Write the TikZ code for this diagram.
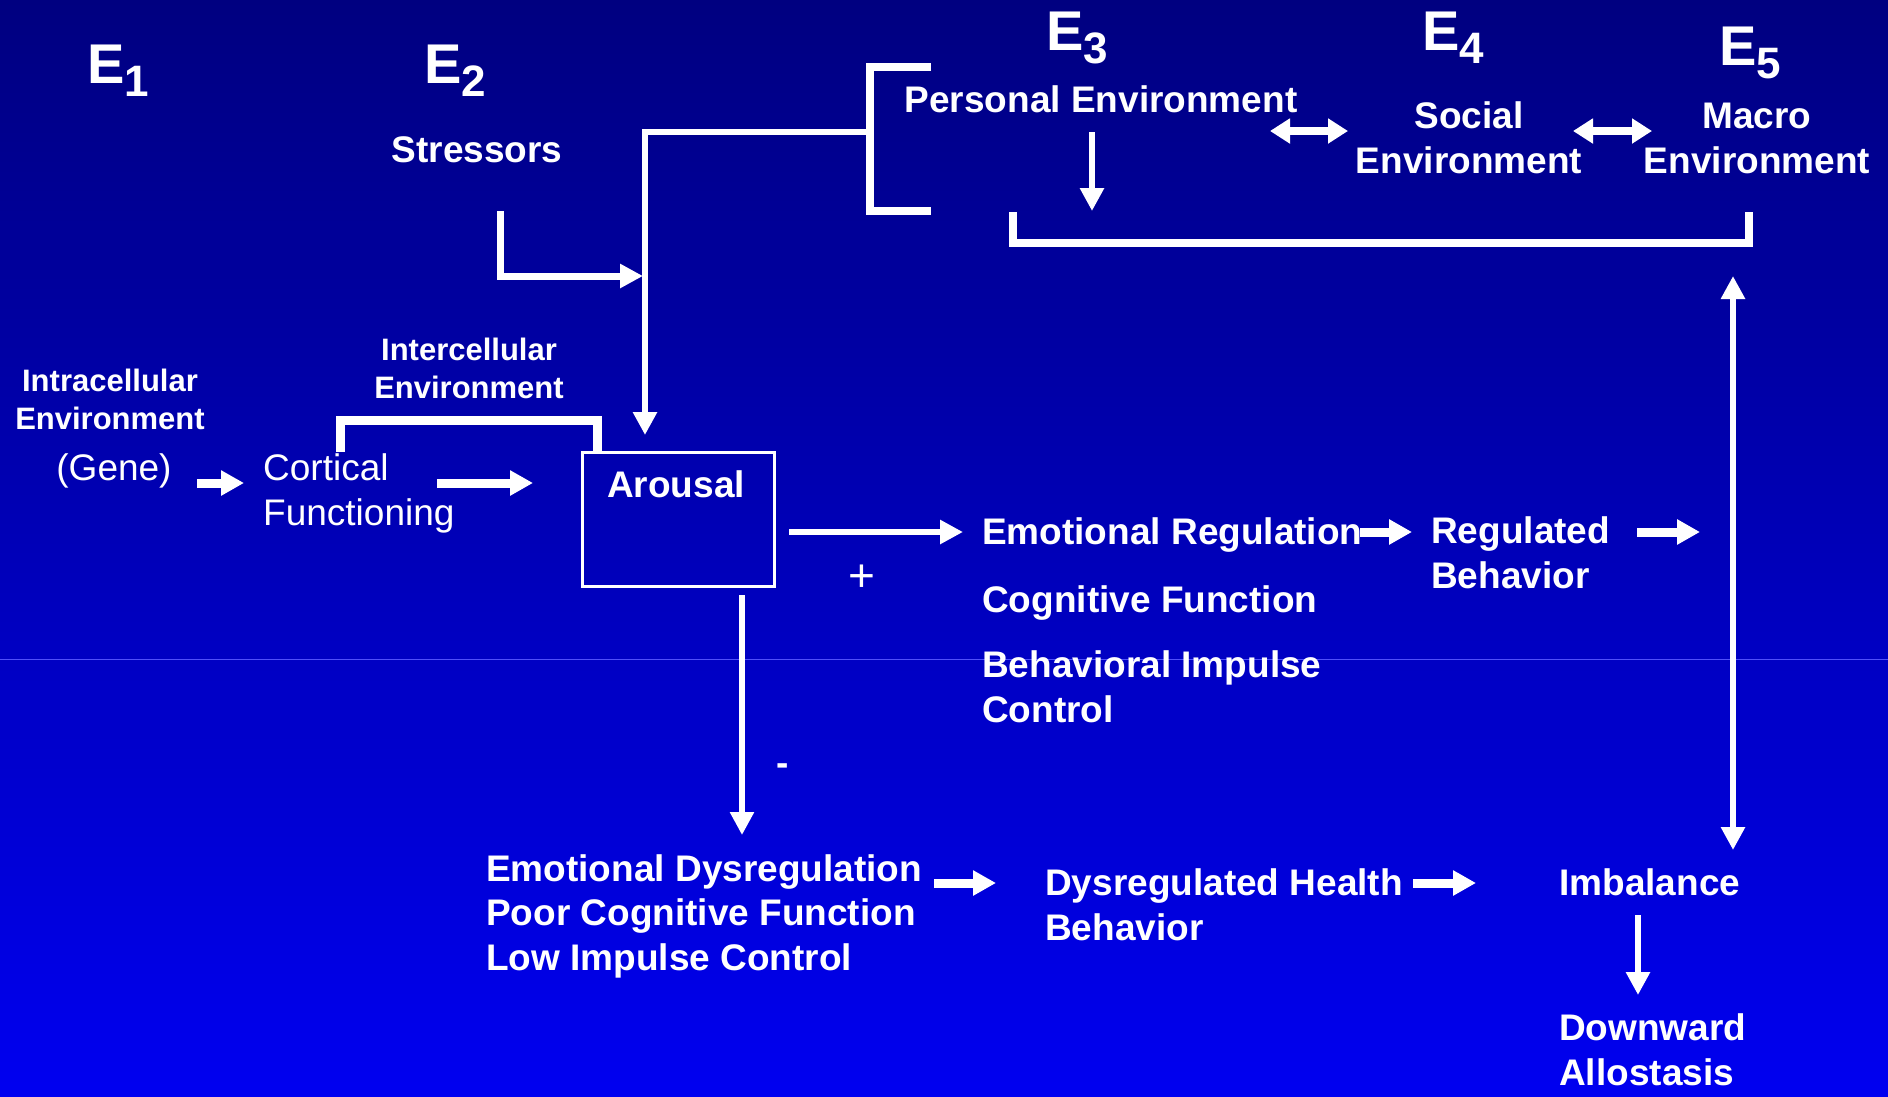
\documentclass[tikz,border=0pt]{standalone}
\usepackage{fontspec}
\setmainfont{Liberation Sans}
\usetikzlibrary{arrows.meta}
\definecolor{bgtop}{RGB}{0,0,128}
\definecolor{bgbot}{RGB}{0,0,240}
\definecolor{faintline}{RGB}{80,80,250}
\tikzset{
 lbl/.style={text=white, inner sep=0pt, font=\fontsize{37}{44.5}\selectfont\bfseries},
 lblreg/.style={text=white, inner sep=0pt, font=\fontsize{37}{44.5}\selectfont},
 lblsmall/.style={text=white, inner sep=0pt, font=\fontsize{31}{37.5}\selectfont\bfseries},
 elbl/.style={text=white, inner sep=0pt, font=\fontsize{56}{60}\selectfont\bfseries, anchor=base west},
 conn/.style={draw=white, line width=6.5pt, -{Triangle[length=23pt,width=23pt]}},
 fat/.style={draw=white, line width=9pt, -{Triangle[length=23pt,width=24pt]}},
 dbl/.style={draw=white, line width=8pt, {Triangle[length=20pt,width=24pt]}-{Triangle[length=20pt,width=24pt]}},
 brk/.style={draw=white, line width=8pt, line join=miter},
 boxst/.style={draw=white, line width=2.5pt, inner sep=0pt, minimum width=192pt, minimum height=134pt, anchor=north west},
}
\newcommand{\esub}[1]{\raisebox{-13pt}{\fontsize{44}{44}\selectfont #1}}
\begin{document}
\begin{tikzpicture}[x=1pt,y=-1pt]
\useasboundingbox (0,0) rectangle (1888,1096);
\shade[top color=bgtop, bottom color=bgbot] (0,0) rectangle (1888,1096);
\coordinate (fl1) at (0,659);
\coordinate (fl2) at (1888,659);
\draw[faintline, line width=1pt] (fl1) -- (fl2);

% E labels
\node[elbl] (e1) at (87,83) {E\esub{1}};
\node[elbl] (e2) at (424,83) {E\esub{2}};
\node[elbl] (e3) at (1046,50) {E\esub{3}};
\node[elbl] (e4) at (1422,50) {E\esub{4}};
\node[elbl] (e5) at (1719,65) {E\esub{5}};

% text labels (multi-line nodes: base = last line's baseline)
\node[lbl, anchor=base] (stress) at (477,162) {Stressors};
\node[lbl, anchor=base] (personal) at (1101,112) {Personal Environment};
\node[lbl, anchor=base, align=center] (social) at (1469,173) {Social\\Environment};
\node[lbl, anchor=base, align=center] (macro) at (1757,173) {Macro\\Environment};
\node[lblsmall, anchor=base, align=center] (intra) at (110,429) {Intracellular\\Environment};
\node[lblsmall, anchor=base, align=center] (inter) at (469,398) {Intercellular\\Environment};
\node[lblreg, anchor=base] (gene) at (114,480) {(Gene)};
\node[lblreg, anchor=base west, align=left] (cortical) at (263,525) {Cortical\\Functioning};
\node[boxst] (arousal) at (581,451) {};
\node[lbl, anchor=base] (arousaltxt) at (676,497) {Arousal};
\node[lblreg, font=\fontsize{46}{46}\selectfont] (plus) at (862,578) {+};
\node[lbl] (minus) at (783,770) {-};
\node[lbl, anchor=base west] (emoreg) at (982,544) {Emotional Regulation};
\node[lbl, anchor=base west] (cogfun) at (982,612) {Cognitive Function};
\node[lbl, anchor=base west, align=left] (behimp) at (982,722) {Behavioral Impulse\\Control};
\node[lbl, anchor=base west, align=left] (regbeh) at (1431,588) {Regulated\\Behavior};
\node[lbl, anchor=base west, align=left] (dysreg) at (486,970) {Emotional Dysregulation\\Poor Cognitive Function\\Low Impulse Control};
\node[lbl, anchor=base west, align=left] (dyshealth) at (1045,940) {Dysregulated Health\\Behavior};
\node[lbl, anchor=base west] (imbal) at (1559,895) {Imbalance};
\node[lbl, anchor=base west, align=left] (downward) at (1559,1085) {Downward\\Allostasis};

% coordinates
\coordinate (s1) at (500,211);
\coordinate (s2) at (500,276);
\coordinate (s3) at (643,276);
\coordinate (t1) at (870,132);
\coordinate (t2) at (645,132);
\coordinate (t3) at (645,435);
\coordinate (b1) at (931,67);
\coordinate (b2) at (870,67);
\coordinate (b3) at (870,211);
\coordinate (b4) at (931,211);
\coordinate (p1) at (1092,132);
\coordinate (p2) at (1092,211);
\coordinate (d1a) at (1270,131);
\coordinate (d1b) at (1348,131);
\coordinate (d2a) at (1573,131);
\coordinate (d2b) at (1652,131);
\coordinate (u1) at (1013,212);
\coordinate (u2) at (1013,243);
\coordinate (u3) at (1749,243);
\coordinate (u4) at (1749,212);
\coordinate (r1) at (1733,276);
\coordinate (r2) at (1733,850);
\coordinate (g1) at (197,483);
\coordinate (g2) at (244,483);
\coordinate (c1) at (437,483);
\coordinate (c2) at (533,483);
\coordinate (i1) at (340,452);
\coordinate (i2) at (340,420);
\coordinate (i3) at (597,420);
\coordinate (i4) at (597,451);
\coordinate (a1) at (789,532);
\coordinate (a2) at (963,532);
\coordinate (a3) at (742,595);
\coordinate (a4) at (742,835);
\coordinate (er1) at (1360,532);
\coordinate (er2) at (1412,532);
\coordinate (rb1) at (1637,532);
\coordinate (rb2) at (1700,532);
\coordinate (dy1) at (934,883);
\coordinate (dy2) at (996,883);
\coordinate (dh1) at (1413,883);
\coordinate (dh2) at (1476,883);
\coordinate (im1) at (1638,915);
\coordinate (im2) at (1638,995);

% connectors
\draw[conn, line width=7pt] (s1) -- (s2) -- (s3);
\draw[conn] (t1) -- (t2) -- (t3);
\draw[brk] (b1) -- (b2) -- (b3) -- (b4);
\draw[conn, line width=6pt] (p1) -- (p2);
\draw[dbl] (d1a) -- (d1b);
\draw[dbl] (d2a) -- (d2b);
\draw[brk] (u1) -- (u2) -- (u3) -- (u4);
\draw[conn, line width=6pt, {Triangle[length=23pt,width=23pt]}-{Triangle[length=23pt,width=23pt]}] (r1) -- (r2);
\draw[fat] (g1) -- (g2);
\draw[fat] (c1) -- (c2);
\draw[brk, line width=9pt] (i1) -- (i2) -- (i3) -- (i4);
\draw[conn, line width=6pt] (a1) -- (a2);
\draw[conn, line width=5.5pt] (a3) -- (a4);
\draw[fat] (er1) -- (er2);
\draw[fat] (rb1) -- (rb2);
\draw[fat] (dy1) -- (dy2);
\draw[fat] (dh1) -- (dh2);
\draw[conn, line width=6pt] (im1) -- (im2);
\end{tikzpicture}
\end{document}
